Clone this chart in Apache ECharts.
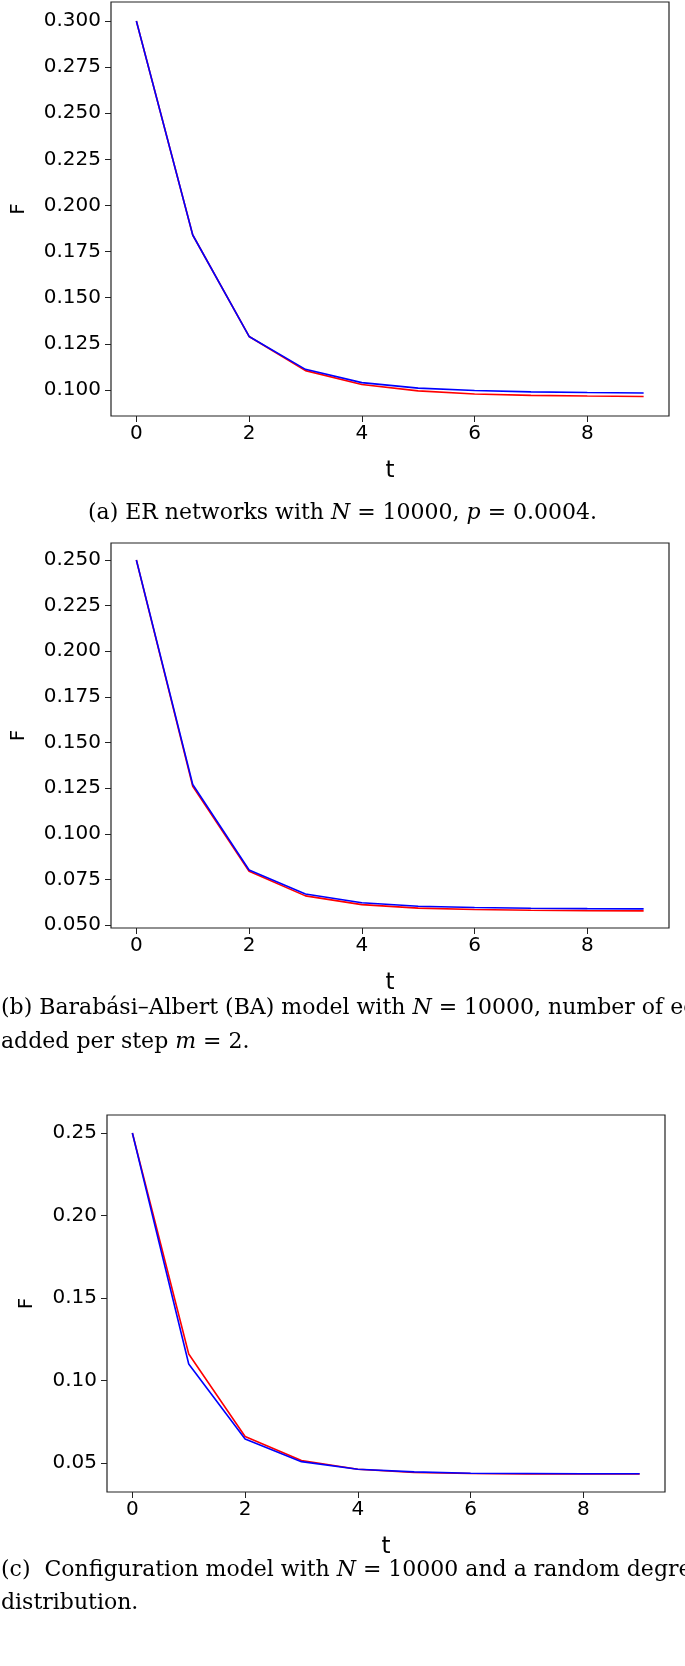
<!DOCTYPE html>
<html><head><meta charset="utf-8">
<script src="https://cdn.jsdelivr.net/npm/echarts@6/dist/echarts.min.js"></script>
<style>html,body{margin:0;padding:0;background:#fff}#c{width:685px;height:1666px}</style>
</head><body><div id="c"></div>
<script>
const t = [0,1,2,3,4,5,6,7,8,9];
const erRed  = [0.300,0.184,0.129,0.1105,0.103,0.0995,0.0978,0.0971,0.0967,0.0965];
const erBlue = [0.300,0.184,0.129,0.1112,0.104,0.1010,0.0997,0.0990,0.0986,0.0984];
const baRed  = [0.250,0.126,0.0795,0.066,0.0612,0.0593,0.0585,0.0581,0.0579,0.0578];
const baBlue = [0.250,0.127,0.0802,0.067,0.0622,0.0603,0.0596,0.0592,0.0590,0.0589];
const cmRed  = [0.250,0.116,0.066,0.0515,0.0462,0.0442,0.0436,0.0434,0.0433,0.0433];
const cmBlue = [0.250,0.110,0.0645,0.0508,0.0462,0.0446,0.0438,0.0436,0.0435,0.0435];
const xTicks = [0,2,4,6,8];
const yTicksA = [0.100,0.125,0.150,0.175,0.200,0.225,0.250,0.275,0.300];
const yTicksB = [0.050,0.075,0.100,0.125,0.150,0.175,0.200,0.225,0.250];
const yTicksC = [0.05,0.10,0.15,0.20,0.25];

const panels = [
  {top:2, bottom:416, left:111, right:669, min:0.0859, max:0.3103, ticks:yTicksA, dec:3, red:erRed, blue:erBlue},
  {top:543, bottom:928, left:111, right:669, min:0.0484, max:0.2593, ticks:yTicksB, dec:3, red:baRed, blue:baBlue},
  {top:1115, bottom:1492, left:107, right:665, min:0.0324, max:0.2609, ticks:yTicksC, dec:2, red:cmRed, blue:cmBlue}
];
const font = 'DejaVu Sans';
const grid=[], xAxis=[], yAxis=[], series=[];
panels.forEach((p,i)=>{
  grid.push({left:p.left, top:p.top, width:p.right-p.left, height:p.bottom-p.top, show:true, borderColor:'#222', borderWidth:1.2, backgroundColor:'#fff'});
  xAxis.push({type:'value', gridIndex:i, min:-0.45, max:9.45, splitLine:{show:false}, axisLine:{show:false, onZero:false},
    axisTick:{show:true, customValues:xTicks, length:6, lineStyle:{color:'#222'}},
    axisLabel:{customValues:xTicks, fontFamily:font, fontSize:20, color:'#000', margin:8},
    name:'t', nameLocation:'middle', nameGap:44, nameTextStyle:{fontFamily:font, fontSize:23, color:'#000'}});
  yAxis.push({type:'value', gridIndex:i, min:p.min, max:p.max, splitLine:{show:false}, axisLine:{show:false, onZero:false},
    axisTick:{show:true, customValues:p.ticks, length:6, lineStyle:{color:'#222'}},
    axisLabel:{customValues:p.ticks, fontFamily:font, fontSize:20, color:'#000', margin:10, formatter:v=>v.toFixed(p.dec)},
    name:'F', nameLocation:'middle', nameGap:p.dec===3?82:70, nameRotate:90, nameTextStyle:{fontFamily:font, fontSize:20, color:'#000'}});
  series.push({type:'line', xAxisIndex:i, yAxisIndex:i, data:t.map((x,k)=>[x,p.red[k]]), symbol:'none', lineStyle:{color:'#ff0000', width:1.6}, z:2});
  series.push({type:'line', xAxisIndex:i, yAxisIndex:i, data:t.map((x,k)=>[x,p.blue[k]]), symbol:'none', lineStyle:{color:'#0000ff', width:1.6}, z:3});
});
const serif = 'DejaVu Serif';
const fs = 22;
const rich = {n:{fontFamily:serif,fontSize:fs,color:'#000'}, i:{fontFamily:serif,fontSize:fs,fontStyle:'italic',color:'#000'}};
function cap(x,y,text,align){return {type:'text', left:align==='center'?'center':x, top:y, style:{text:text, rich:rich, font:fs+'px "DejaVu Serif"', fill:'#000'}};}
const graphic = [
  cap(0,502,'{n|(a) ER networks with }{i|N}{n| = 10000, }{i|p}{n| = 0.0004.}','center'),
  cap(1,997,'{n|(b) Barabási–Albert (BA) model with }{i|N}{n| = 10000, number of edges}'),
  cap(1,1031,'{n|added per step }{i|m}{n| = 2.}'),
  cap(1,1559,'{n|(c)  Configuration model with }{i|N}{n| = 10000 and a random degree}'),
  cap(1,1592,'{n|distribution.}')
];
const chart = echarts.init(document.getElementById('c'));
chart.setOption({animation:false, grid, xAxis, yAxis, series, graphic});
</script></body></html>
